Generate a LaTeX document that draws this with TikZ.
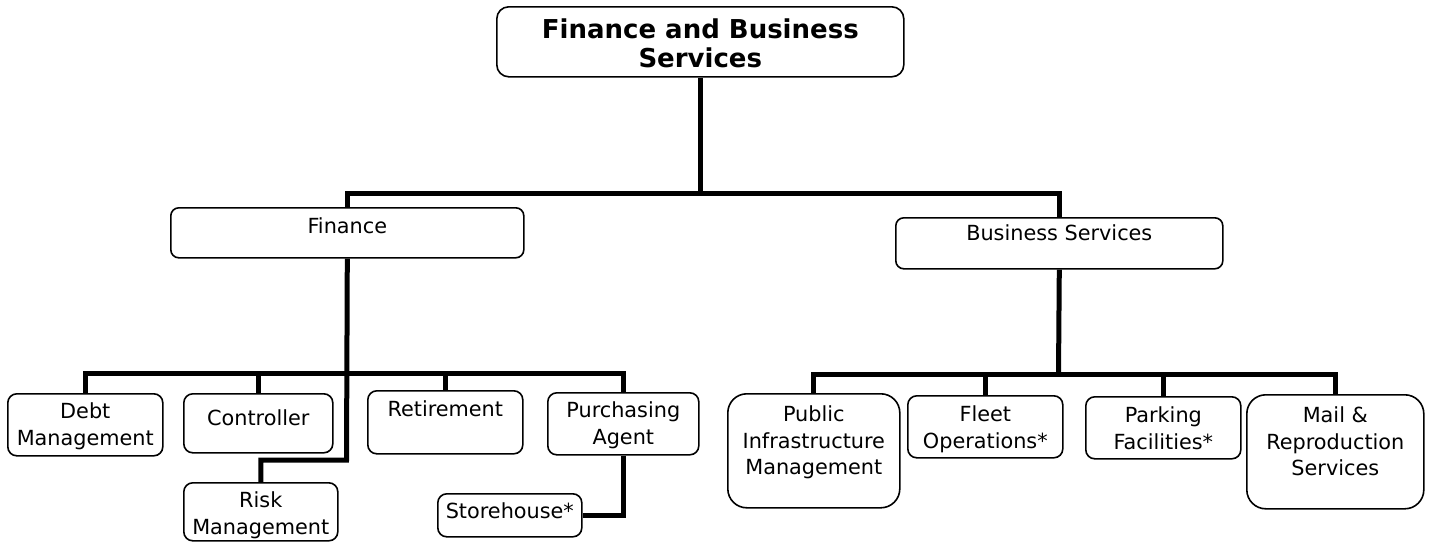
\documentclass[tikz,border=0pt]{standalone}
\usepackage{fontspec}
\setmainfont{DejaVu Sans}
\tikzset{
  orgbox/.style={draw=black, line width=1.6pt, rounded corners=9pt, fill=white,
    inner sep=0pt, anchor=north west, font=\fontsize{20.8}{26.5}\selectfont},
  titlefont/.style={font=\fontsize{26}{29}\selectfont\bfseries, rounded corners=12pt},
  tallbox/.style={rounded corners=19pt},
  link/.style={line width=5pt, line join=miter}
}
\newcommand\orgbox[8]{%
  \node[orgbox,#1, minimum width={(#5-#3)*1pt}, minimum height={(#6-#4)*1pt}] (#2) at (#3,#4)
  {\parbox[c][\dimexpr#6pt-#4pt\relax][t]{\dimexpr#5pt-#3pt\relax}{\centering\vspace*{#7pt}#8}};%
}
\begin{document}
\begin{tikzpicture}[x=1pt,y=-1pt]
\useasboundingbox (0,0) rectangle (1429,541);
% boxes
\orgbox{titlefont}{top}{496}{6}{903}{76}{12}{Finance and Business\\Services}
\orgbox{rounded corners=8pt}{fin}{170}{207}{523}{257}{10}{Finance}
\orgbox{rounded corners=8pt}{bus}{895}{217}{1222}{268}{7}{Business Services}
\orgbox{}{debt}{7}{393}{162}{455}{9}{Debt\\Management}
\orgbox{}{ctrl}{183}{393}{332}{452}{16}{Controller}
\orgbox{}{ret}{367}{390}{522}{453}{10}{Retirement}
\orgbox{}{purch}{547}{392}{698}{454}{9}{Purchasing\\Agent}
\orgbox{}{risk}{183}{482}{337}{540}{9}{Risk\\Management}
\orgbox{}{store}{437}{493}{581}{536}{9}{Storehouse*}
\orgbox{tallbox}{pub}{727}{393}{899}{507}{12}{Public\\Infrastructure\\Management}
\orgbox{}{fleet}{907}{395}{1062}{457}{10}{Fleet\\Operations*}
\orgbox{}{park}{1085}{396}{1240}{458}{10}{Parking\\Facilities*}
\orgbox{tallbox}{mail}{1246}{394}{1423}{508}{12}{Mail \&\\Reproduction\\Services}
% junctions
\coordinate (j1) at (700,193);
\coordinate (j2) at (346.5,373);
\coordinate (rk) at (346.5,460);
\coordinate (j3) at (1058.5,374);
% connectors
\draw[link] (top.south -| j1) -- (j1) -| (fin.north);
\draw[link] (j1) -| (bus.north);
\draw[link] (fin.south) -- (rk) -| (risk.north);
\draw[link] (debt.north) |- (j2) -| (purch.north);
\draw[link] (ctrl.north) -- (ctrl.north |- j2);
\draw[link] (ret.north) -- (ret.north |- j2);
\draw[link] (purch.south) |- (store.east);
\draw[link] (bus.south) -- (j3);
\draw[link] (pub.north) |- (j3) -| (mail.north);
\draw[link] (fleet.north) -- (fleet.north |- j3);
\draw[link] (park.north) -- (park.north |- j3);
\end{tikzpicture}
\end{document}
